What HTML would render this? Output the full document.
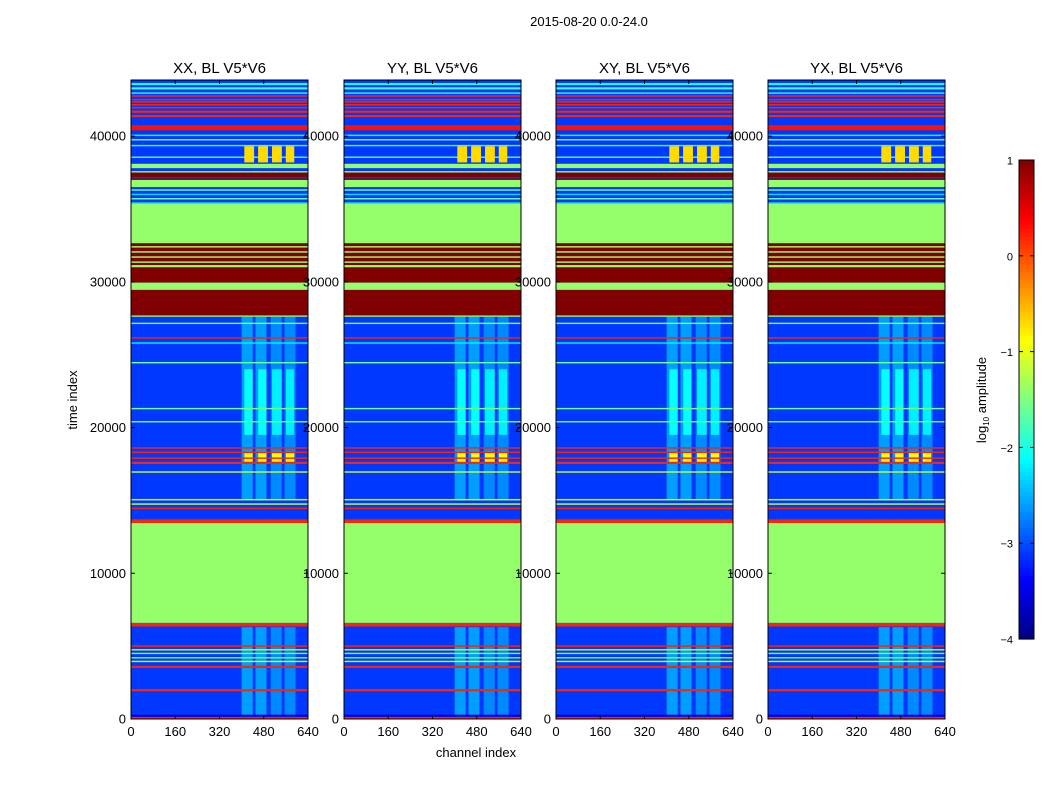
<!DOCTYPE html>
<html><head><meta charset="utf-8"><style>
body{margin:0;background:#fff;width:1050px;height:800px;overflow:hidden;font-family:"Liberation Sans",sans-serif}
svg text{font-family:"Liberation Sans",sans-serif}
</style></head><body>
<svg id="chart" width="1050" height="800">
<text x="589" y="26" font-size="13" text-anchor="middle">2015-08-20 0.0-24.0</text>
<text x="476" y="757" font-size="13" text-anchor="middle">channel index</text>
<text transform="translate(77,400) rotate(-90)" font-size="13" text-anchor="middle">time index</text>
<g id="panels"></g>
<g id="cbar"></g>
</svg>
<script>
const panelTitles=["XX, BL V5*V6","YY, BL V5*V6","XY, BL V5*V6","YX, BL V5*V6"];
const xTicks=[0,160,320,480,640];
const yTicks=[0,10000,20000,30000,40000];
const cbTicks=[1,0,-1,-2,-3,-4];
const backgroundValue=-3.1;
// full-width bands: [tStart, tEnd, log10 amplitude]
const bandStart=[0,150,1900,3500,3900,4150,4450,4700,4950,6350,6600,13450,14400,14700,15000,16900,17500,17850,18250,18550,20350,21250,24400,25750,26100,27100,27600,27700,29450,29950,30700,31000,31300,31650,32000,32350,32650,32800,35350,35650,35950,36250,36500,37000,37200,37500,37800,38500,39300,39700,40000,40400,41300,41600,41900,42100,42300,42450,42700,42900,43200,43500];
const bandEnd=[150,300,2050,3650,4000,4250,4550,4800,5050,6600,13450,13700,14500,14800,15100,17000,17650,17950,18350,18650,20450,21350,24500,25850,26200,27200,27700,29450,29950,30700,32800,31150,31400,31750,32100,32450,32800,35350,35450,35750,36050,36350,37000,37100,37500,37600,38100,38600,39400,39800,40100,40750,41450,41750,42000,42200,42400,42550,42800,43000,43350,43650];
const bandValue=[0.2,-3.5,0.2,0.2,-1.2,-1.6,-1.6,-1.2,0.2,0.2,-1.4,0.2,0.2,-1.2,-1.2,-1.2,0.2,0.2,0.2,0.2,-1.6,-1.6,-1.6,-2.2,0.2,-1.6,-1.4,1.0,-1.4,1.0,1.0,-1.4,-1.4,-1.4,-1.4,-1.4,-1.4,-1.4,-2.0,-1.6,-2.3,-1.6,-1.4,1.0,1.0,-1.4,-1.4,-1.8,-1.8,-1.6,-2.0,0.3,0.2,0.2,0.2,0.2,0.2,0.2,0.2,-2.0,-1.8,-2.0];
// channel columns in noisy regions: [tStart,tEnd,chStart,chEnd,value]
const colT0=[0,0,0,0,15000,15000,15000,15000,19500,19500,19500,19500,17650,17650,17650,17650,38200,38200,38200,38200];
const colT1=[6300,6300,6300,6300,27600,27600,27600,27600,24000,24000,24000,24000,18350,18350,18350,18350,39300,39300,39300,39300];
const colC0=[400,450,505,555,400,450,505,555,410,460,510,560,410,460,510,560,410,460,510,560];
const colC1=[440,490,545,595,440,490,545,595,440,490,545,590,440,490,545,590,445,495,545,590];
const colV=[-2.6,-2.6,-2.7,-2.7,-2.6,-2.6,-2.7,-2.7,-2.1,-2.1,-2.2,-2.2,-0.9,-0.9,-0.9,-0.9,-0.7,-0.7,-0.7,-0.7];

const NS="http://www.w3.org/2000/svg";
const panelX=[131,344,556,768], PW=177, PT=80, PB=719, TMAX=43850, VMIN=-4, VMAX=1;
function yScale(t){return PB-(t/TMAX)*(PB-PT);}
function xScale(p,c){return panelX[p]+c/640*PW;}
function jet(v){const t=Math.max(0,Math.min(1,(v-VMIN)/(VMAX-VMIN)));
 const f=x=>Math.round(255*Math.max(0,Math.min(1,1.5-Math.abs(x))));
 return `rgb(${f(4*t-3)},${f(4*t-2)},${f(4*t-1)})`;}
function mk(tag,attrs,parent){const e=document.createElementNS(NS,tag);for(const k in attrs)e.setAttribute(k,attrs[k]);parent.appendChild(e);return e;}
const G=document.getElementById('panels');
for(let p=0;p<4;p++){
 const g=mk('g',{},G);
 
 
 const bg=mk('rect',{x:panelX[p],y:PT,width:PW,height:PB-PT,fill:jet(backgroundValue)},g);
 
 
 for(let i=0;i<colT0.length;i++){
  const r=mk('rect',{x:xScale(p,colC0[i]),y:yScale(colT1[i]),width:xScale(p,colC1[i])-xScale(p,colC0[i]),height:yScale(colT0[i])-yScale(colT1[i]),fill:jet(colV[i])},g);
  
  
 }
 for(let i=0;i<bandStart.length;i++){
  const y0=yScale(bandEnd[i]),y1=yScale(bandStart[i]);
  const r=mk('rect',{x:panelX[p],y:y0,width:PW,height:Math.max(1,y1-y0),fill:jet(bandValue[i])},g);
  
  
 }
 for(let i=16;i<20;i++){
  const r=mk('rect',{x:xScale(p,colC0[i]),y:yScale(colT1[i]),width:xScale(p,colC1[i])-xScale(p,colC0[i]),height:yScale(colT0[i])-yScale(colT1[i]),fill:jet(colV[i])},g);
  
  
 }
 const fr=mk('rect',{x:panelX[p],y:PT,width:PW,height:PB-PT,fill:'none',stroke:'#000','stroke-width':1},g);
 
 
 const tt=mk('text',{x:panelX[p]+PW/2,y:73,'font-size':15,'text-anchor':'middle'},g);
 tt.textContent=panelTitles[p];
 
 
 xTicks.forEach(c=>{const x=xScale(p,c);
  mk('line',{x1:x,x2:x,y1:PB,y2:PB-4,stroke:'#000'},g);mk('line',{x1:x,x2:x,y1:PT,y2:PT+4,stroke:'#000'},g);
  const l=mk('text',{x:x,y:PB+17,'font-size':13,'text-anchor':'middle'},g);l.textContent=c;
  
  });
 yTicks.forEach(t=>{const y=yScale(t);
  mk('line',{x1:panelX[p],x2:panelX[p]+4,y1:y,y2:y,stroke:'#000'},g);mk('line',{x1:panelX[p]+PW,x2:panelX[p]+PW-4,y1:y,y2:y,stroke:'#000'},g);
  const l=mk('text',{x:panelX[p]-5,y:y+4.5,'font-size':13,'text-anchor':'end'},g);l.textContent=t;
  
  });
}
const C=document.getElementById('cbar');


const CX=1019,CW=15,CT=160,CB=639;
function cbY(v){return CB-(v-VMIN)/(VMAX-VMIN)*(CB-CT);}
for(let i=0;i<120;i++){const v0=VMIN+i*(VMAX-VMIN)/120,v1=v0+(VMAX-VMIN)/120;
 mk('rect',{x:CX,y:cbY(v1),width:CW,height:cbY(v0)-cbY(v1)+0.6,fill:jet((v0+v1)/2)},C);}
mk('rect',{x:CX,y:CT,width:CW,height:CB-CT,fill:'none',stroke:'#000'},C);
cbTicks.forEach(v=>{const y=cbY(v);
 mk('line',{x1:CX,x2:CX+4,y1:y,y2:y,stroke:'#000'},C);mk('line',{x1:CX+CW,x2:CX+CW-4,y1:y,y2:y,stroke:'#000'},C);
 const l=mk('text',{x:1013,y:y+4.5,'font-size':11,'text-anchor':'end'},C);l.textContent=v<0?'\u2212'+(-v):v;
 
 });
const cl=mk('text',{transform:'translate(986,400) rotate(-90)','font-size':13,'text-anchor':'middle'},C);
cl.innerHTML='log<tspan font-size="8" dy="3">10</tspan><tspan dy="-3"> amplitude</tspan>';


</script>
</body></html>
